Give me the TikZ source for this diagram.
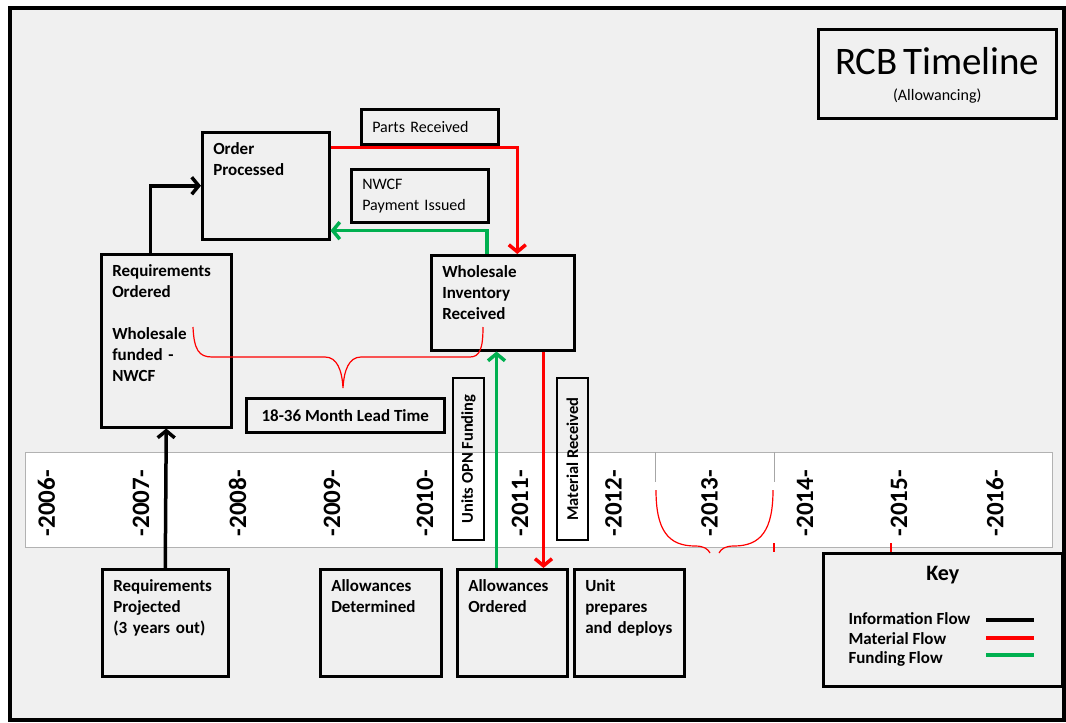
\documentclass[tikz,border=0pt]{standalone}
\usepackage{fontspec}
\setmainfont{Carlito}
\usetikzlibrary{arrows.meta, positioning, calc}
\definecolor{panel}{RGB}{240,240,240}
\definecolor{fundgreen}{RGB}{0,176,80}
\newcommand{\stagefont}{\fontsize{17}{21}\selectfont}
\newcommand{\notefont}{\fontsize{16}{21}\selectfont}

\begin{document}
\begin{tikzpicture}[
    x=1pt, y=-1pt,
    stage/.style={draw, line width=2.5pt, anchor=north west, align=left, font=\stagefont\bfseries, inner xsep=11pt, inner ysep=0pt, text height=22pt},
    note/.style={draw, line width=2.5pt, anchor=north west, align=left, font=\notefont, inner xsep=11pt, inner ysep=0pt},
    tag/.style={draw, line width=2.5pt, rotate=90, font=\fontsize{16.5}{18}\selectfont\bfseries, minimum width=162pt, minimum height=31pt, inner sep=0pt},
    year/.style={rotate=90, font=\fontsize{25}{28}\selectfont\bfseries},
    info/.style={line width=3.5pt, -{Straight Barb[length=7pt, width=17pt]}},
    material/.style={info, red},
    funding/.style={info, fundgreen},
    leadbrace/.style={red, line width=1.2pt},
    ]

    \useasboundingbox (0,0) rectangle (1066,723);

    % panel and timeline strip
    \fill[panel] (10,8) rectangle (1064,720);
    \draw[gray!60, fill=white] (25,452) rectangle (1052,547);
    \draw[gray!70] (655,452) -- (655,482) (774,452) -- (774,482);

    % years along the strip
    \foreach \yr/\xx in {2006/46.5, 2007/141, 2008/237.5, 2009/332, 2010/425, 2011/520,
                         2012/613.5, 2013/709.5, 2014/805, 2015/899, 2016/995}
        \node[year] (y\yr) at (\xx,503) {-\yr-};

    % red brace round 2013
    \draw[leadbrace] (656,490) .. controls (656,530) and (668,546) .. (695,546) .. controls (704,546) and (708,549) .. (710,553);
    \draw[leadbrace] (773,490) .. controls (773,530) and (761,546) .. (734,546) .. controls (725,546) and (721,549) .. (719,553);
    \draw[leadbrace] (774,543) -- (774,552) (891,543) -- (891,552);

    % title
    \node[draw, line width=2.5pt, anchor=north west, align=center, font=\notefont,
          text width=238pt, inner xsep=0pt, inner ysep=0pt, text height=45pt, text depth=44pt] (title) at (817,28)
        {{\fontsize{39}{39}\selectfont RCB Timeline}\\[5pt](Allowancing)};

    % stages above the strip
    \node[stage, text width=105pt, text depth=85pt] (ordproc) at (201,131) {Order\\Processed};
    \node[stage, text width=108pt, text depth=151pt] (reqord) at (100,253)
        {Requirements\\Ordered\\[21pt]Wholesale\\funded -\\NWCF};
    \node[stage, text width=121pt, text depth=73pt] (whinv) at (430,254)
        {Wholesale\\Inventory\\Received};

    % notes on the flows
    \node[note, text width=115pt, minimum height=35pt] (partsrec) at (360,108) {Parts Received};
    \node[note, text width=115pt, minimum height=53pt] (nwcfpay) at (350,168) {NWCF\\Payment Issued};
    \node[draw, line width=2.5pt, anchor=north west, font=\stagefont\bfseries,
          minimum width=198pt, minimum height=34pt] (leadtime) at (245,397) {18-36 Month Lead Time};
    \node[tag] (unitsopn) at (468.5,459) {Units OPN Funding};
    \node[tag] (matrec) at (572.5,459) {Material Received};

    % stages below the strip
    \node[stage, text width=104pt, text depth=85pt] (reqproj) at (101,568)
        {Requirements\\Projected\\(3 years out)};
    \node[stage, text width=99pt, text depth=85pt] (allowdet) at (319,568) {Allowances\\Determined};
    \node[stage, text width=88pt, text depth=85pt] (alloword) at (456,568) {Allowances\\Ordered};
    \node[stage, text width=88pt, text depth=85pt] (unitdep) at (573,568) {Unit\\prepares\\and deploys};

    % lead time brace
    \draw[leadbrace] (193,327) .. controls (194,350) and (199,357) .. (212,357) -- (325,357)
        .. controls (337,357) and (342,370) .. (343,388)
        .. controls (344,370) and (349,357) .. (361,357) -- (470,357)
        .. controls (480,357) and (483,348) .. (483,327);

    % flows
    \coordinate (gfund) at ($(alloword.north west)!0.36!(alloword.north east)$);
    \coordinate (mrec) at ($(whinv.south west)!0.78!(whinv.south east)$);
    \draw[info] (reqproj.north) -- (reqord.south);
    \draw[info] ($(reqord.north west)!0.38!(reqord.north east)$) |- (ordproc.west);
    \draw[material] ($(ordproc.north east)!0.15!(ordproc.south east)$) -| ($(whinv.north west)!0.6!(whinv.north east)$);
    \draw[funding] ($(whinv.north west)!0.39!(whinv.north east)$) |- ($(ordproc.north east)!0.91!(ordproc.south east)$);
    \draw[funding] (gfund) -- (gfund |- whinv.south);
    \draw[material] (mrec) -- (mrec |- alloword.north);

    % key
    \node[draw, line width=2.5pt, anchor=north west, align=center, font=\fontsize{22}{24}\selectfont\bfseries,
          text width=239pt, inner xsep=0pt, inner ysep=0pt, text height=27pt, text depth=106pt] (key) at (822,552) {Key};
    \node[anchor=base west, font=\stagefont\bfseries] (kinfo) at (845,624) {Information Flow};
    \node[anchor=base west, font=\stagefont\bfseries] (kmat) at (845,644) {Material Flow};
    \node[anchor=base west, font=\stagefont\bfseries] (kfund) at (845,663) {Funding Flow};
    \draw[line width=4pt] (986,620) -- (1034,620);
    \draw[line width=4pt, red] (986,638) -- (1034,638);
    \draw[line width=4pt, fundgreen] (986,655) -- (1034,655);

    % frame
    \draw[line width=4pt] (10,8) rectangle (1064,720);
\end{tikzpicture}
\end{document}
